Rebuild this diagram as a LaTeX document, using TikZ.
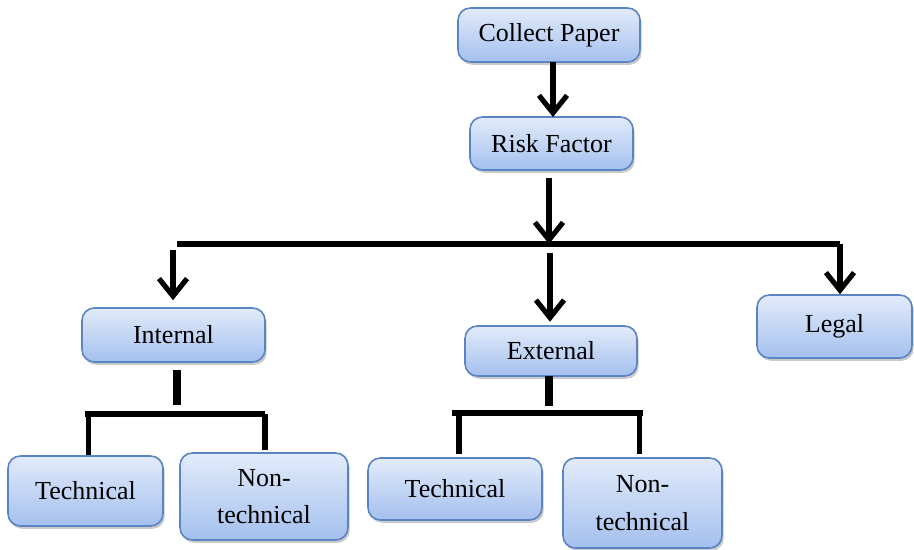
\documentclass[tikz,border=0pt]{standalone}
\usepackage{fontspec}
\setmainfont{Liberation Serif}
\newfontfamily\boxfont{Liberation Serif}
\usetikzlibrary{arrows.meta,shadows}
\definecolor{boxtop}{HTML}{E2EBFA}
\definecolor{boxbot}{HTML}{A4C0EE}
\definecolor{boxline}{HTML}{5A84C2}
\begin{document}
\begin{tikzpicture}[x=0.02cm,y=-0.02cm,
  box/.style={draw=boxline, line width=0.9pt, rounded corners=7pt,
    top color=boxtop, bottom color=boxbot, align=center,
    font=\boxfont\fontsize{14.8}{21.5}\selectfont, inner sep=0pt,
    drop shadow={shadow xshift=1pt, shadow yshift=-1.6pt, opacity=0.35, fill=black!60}},
  conn/.style={line width=2.9pt, draw=black},
  arr/.style={conn, -{Straight Barb[length=10pt,width=16pt]}},
  stub/.style={line width=4.4pt, draw=black}]
\useasboundingbox (0,0) rectangle (914,549);
\node[box, minimum width=3.64cm, minimum height=1.08cm] (cp) at (549,35) {Collect Paper};
\node[box, minimum width=3.26cm, minimum height=1.06cm] (rf) at (551.5,143.5) {Risk Factor};
\node[box, minimum width=3.66cm, minimum height=1.08cm] (int) at (173.5,335) {Internal};
\node[box, minimum width=3.44cm, minimum height=1.00cm] (ext) at (551,351) {External};
\node[box, minimum width=3.10cm, minimum height=1.26cm] (legal) at (834.5,326.5) {Legal};
\node[box, minimum width=3.10cm, minimum height=1.40cm] (t1) at (85.5,491) {Technical};
\node[box, minimum width=3.36cm, minimum height=1.74cm] (n1) at (264,496.5) {Non-\\technical};
\node[box, minimum width=3.48cm, minimum height=1.24cm] (t2) at (455,489) {Technical};
\node[box, minimum width=3.18cm, minimum height=1.80cm] (n2) at (642.5,503) {Non-\\technical};
% coordinates
\coordinate (bus) at (549,244);
\coordinate (busL) at (177,244);
\coordinate (busR) at (840,244);
\coordinate (aL) at (173,250);
\coordinate (aM) at (550,253);
\coordinate (iTop) at (177,370);
\coordinate (iBus) at (177,405);
\coordinate (iL) at (85,414);
\coordinate (iR) at (265,414);
\coordinate (eTop) at (549,376);
\coordinate (eBus) at (549,406);
\coordinate (eL) at (452,413);
\coordinate (eR) at (643,413);
% top arrows
\draw[arr] (553,62) -- (553,117);
\draw[arr] ([yshift=-4pt]rf.south -| bus) -- (bus);
\draw[conn] (busL) -- (busR);
\draw[arr] (busR) -- (busR |- legal.north);
\draw[arr] (aL) -- ([yshift=4pt]aL |- int.north);
\draw[arr] (aM) -- ([yshift=2pt]aM |- ext.north);
% internal branch
\draw[stub] (iTop) -- (iBus);
\draw[conn] (iL) -- (iR);
\draw[conn] ([xshift=2pt]iL) -- ([xshift=2pt]iL |- t1.north);
\draw[conn] (iR) -- ([yshift=1pt]iR |- n1.north);
% external branch
\draw[stub] (eTop) -- (eBus);
\draw[conn] (eL) -- (eR);
\draw[conn] ([xshift=4pt]eL) -- ([xshift=4pt,yshift=2pt]eL |- t2.north);
\draw[conn] ([xshift=-2pt]eR) -- ([xshift=-2pt,yshift=2pt]eR |- n2.north);
\end{tikzpicture}
\end{document}
